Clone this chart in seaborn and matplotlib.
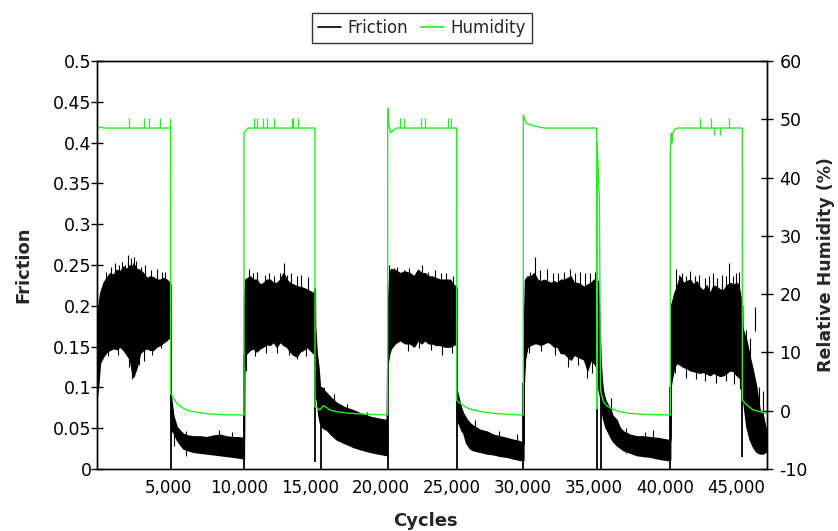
import numpy as np
import pandas as pd
import matplotlib
matplotlib.use("Agg")
import matplotlib.pyplot as plt
from matplotlib.lines import Line2D
import seaborn as sns

# ---------------- data ----------------
# Friction band: cycle, lower envelope, upper envelope
fric_cycles = [0, 100, 211, 446, 700, 916, 1150, 1385, 1620, 1855, 2100, 2325, 2450, 2560, 2800, 3030,
               3260, 3499, 3734, 3969, 4200, 4438, 4673, 4908, 5143, 5185,
               5200, 5378, 5613, 5850, 6082, 6400, 6787, 7250, 7726, 8200, 8665, 9100, 9605, 10000, 10310, 10350,
               10365, 10430, 10779, 11014, 11249, 11484, 11719, 11950, 12188, 12420, 12658, 12900, 13128, 13360,
               13597, 13830, 14067, 14300, 14537, 14770, 15006, 15241, 15350,
               15365, 15478, 15600, 15710, 15850, 15943, 16182, 16500, 16887, 17400, 18056, 18600, 19233, 19800, 20410,
               20480, 20600, 20712, 21000, 21346, 21700, 22050, 22330, 22614, 22860, 23107, 23350, 23600, 23880,
               24164, 24500, 24868, 25100, 25330,
               25345, 25500, 25650, 25806, 26000, 26278, 26510, 26982, 27454, 27919, 28400, 28863, 29300, 29800, 30040,
               30070, 30150, 30319, 30550, 30789, 31024, 31260, 31493, 31730, 31963, 32200, 32433, 32670, 32902,
               33140, 33372, 33600, 33842, 34080, 34311, 34550, 34781, 35000, 35180,
               35300, 35480, 35560, 35650, 35800, 36000, 36139, 36300, 36610, 36850, 37080, 37550, 38020, 38500,
               38960, 39500, 40140, 40380,
               40400, 40485, 40660, 40837, 41070, 41306, 41540, 41776, 42010, 42246, 42480, 42715, 42950, 43185,
               43420, 43655, 43890, 44124, 44360, 44600, 44829, 45060, 45181, 45416, 45455,
               45470, 45510, 45745, 45980, 46215, 46450, 46684, 46919, 47100, 47200]
fric_low = [0.09, 0.105, 0.13, 0.138, 0.144, 0.146, 0.148, 0.147, 0.15, 0.146, 0.14, 0.134, 0.12, 0.113, 0.125, 0.142,
            0.146, 0.148, 0.146, 0.146, 0.15, 0.152, 0.155, 0.158, 0.162, 0.163,
            0.048, 0.045, 0.036, 0.03, 0.025, 0.023, 0.021, 0.02, 0.019, 0.018, 0.017, 0.016, 0.015, 0.014, 0.013, 0.012,
            0.12, 0.14, 0.146, 0.148, 0.144, 0.148, 0.15, 0.153, 0.152, 0.156, 0.15, 0.156, 0.152, 0.15,
            0.144, 0.14, 0.138, 0.144, 0.146, 0.15, 0.146, 0.142, 0.146,
            0.09, 0.085, 0.065, 0.056, 0.052, 0.05, 0.048, 0.042, 0.036, 0.032, 0.027, 0.024, 0.021, 0.019, 0.017,
            0.13, 0.142, 0.148, 0.154, 0.158, 0.154, 0.154, 0.15, 0.158, 0.154, 0.158, 0.154, 0.154, 0.152,
            0.152, 0.15, 0.15, 0.152, 0.154,
            0.06, 0.055, 0.048, 0.044, 0.032, 0.025, 0.023, 0.021, 0.019, 0.018, 0.016, 0.015, 0.013, 0.011, 0.011,
            0.105, 0.134, 0.15, 0.152, 0.154, 0.154, 0.152, 0.154, 0.156, 0.154, 0.15, 0.15, 0.142, 0.142,
            0.138, 0.134, 0.14, 0.138, 0.136, 0.134, 0.121, 0.134, 0.13, 0.125,
            0.1, 0.085, 0.07, 0.062, 0.052, 0.045, 0.04, 0.035, 0.029, 0.026, 0.023, 0.02, 0.017, 0.016,
            0.015, 0.013, 0.011, 0.011,
            0.1, 0.109, 0.125, 0.13, 0.128, 0.125, 0.124, 0.121, 0.12, 0.119, 0.118, 0.119, 0.117, 0.115,
            0.118, 0.116, 0.114, 0.115, 0.118, 0.121, 0.12, 0.115, 0.113, 0.109, 0.11,
            0.1, 0.085, 0.052, 0.036, 0.027, 0.021, 0.019, 0.019, 0.021, 0.023]
fric_high = [0.17, 0.2, 0.215, 0.228, 0.235, 0.24, 0.238, 0.244, 0.242, 0.248, 0.245, 0.25, 0.246, 0.252, 0.245, 0.244,
             0.24, 0.234, 0.236, 0.235, 0.232, 0.232, 0.234, 0.232, 0.228, 0.225,
             0.09, 0.065, 0.052, 0.047, 0.043, 0.041, 0.04, 0.04, 0.039, 0.041, 0.042, 0.04, 0.039, 0.039, 0.038, 0.036,
             0.2, 0.232, 0.236, 0.232, 0.232, 0.226, 0.228, 0.232, 0.232, 0.228, 0.228, 0.232, 0.24, 0.232,
             0.228, 0.226, 0.224, 0.223, 0.222, 0.22, 0.218, 0.215, 0.222,
             0.175, 0.142, 0.125, 0.1, 0.1, 0.097, 0.093, 0.087, 0.081, 0.076, 0.072, 0.068, 0.064, 0.062, 0.06,
             0.2, 0.24, 0.245, 0.244, 0.24, 0.242, 0.24, 0.236, 0.244, 0.24, 0.24, 0.236, 0.236, 0.234,
             0.232, 0.232, 0.232, 0.226, 0.223,
             0.097, 0.085, 0.075, 0.068, 0.062, 0.056, 0.053, 0.048, 0.046, 0.042, 0.04, 0.038, 0.036, 0.034, 0.032,
             0.17, 0.232, 0.236, 0.236, 0.24, 0.232, 0.23, 0.232, 0.23, 0.228, 0.23, 0.228, 0.232, 0.232,
             0.234, 0.236, 0.228, 0.228, 0.226, 0.223, 0.226, 0.228, 0.232, 0.232,
             0.23, 0.134, 0.11, 0.095, 0.085, 0.078, 0.075, 0.066, 0.06, 0.05, 0.046, 0.042, 0.04, 0.04,
             0.039, 0.038, 0.036, 0.035,
             0.2, 0.203, 0.215, 0.223, 0.236, 0.228, 0.23, 0.232, 0.226, 0.23, 0.222, 0.219, 0.225, 0.215,
             0.225, 0.223, 0.22, 0.219, 0.225, 0.228, 0.226, 0.228, 0.226, 0.203, 0.2,
             0.174, 0.17, 0.158, 0.138, 0.12, 0.1, 0.072, 0.065, 0.05, 0.05]

# Prominent friction spikes above / below the band
spike_up_cycles = [600, 1000, 1300, 1550, 1750, 2000, 2200, 2400, 2600, 2750, 3100, 3350, 3800, 4250, 4550, 4800,
                   5450, 6300, 8600, 9500,
                   10700, 11000, 11300, 11800, 12100, 12500, 12900, 13150, 13400, 13700, 14100, 14400, 14850,
                   16000, 16700, 17600, 19000,
                   20600, 20900, 21100, 21600, 22000, 22500, 22900, 23300, 23800, 24200, 24600, 25100,
                   26600, 28300, 29600,
                   30500, 30830, 31200, 31700, 32100, 32500, 32900, 33300, 33700, 34000, 34400, 34700, 35050,
                   36238, 37300, 38600, 39192,
                   40800, 41000, 41200, 41500, 41800, 42100, 42400, 42800, 43100, 43400, 43700, 44000, 44300,
                   44500, 44800, 45000, 45250,
                   45700, 46000, 46356, 46650, 46950]
spike_up_tops = [0.242, 0.248, 0.252, 0.25, 0.254, 0.25, 0.262, 0.258, 0.26, 0.255, 0.248, 0.25, 0.244, 0.245,
                 0.242, 0.242,
                 0.058, 0.046, 0.048, 0.045,
                 0.245, 0.24, 0.242, 0.238, 0.24, 0.236, 0.24, 0.252, 0.238, 0.24, 0.236, 0.238, 0.235,
                 0.1, 0.092, 0.08, 0.07,
                 0.25, 0.246, 0.248, 0.244, 0.246, 0.242, 0.25, 0.242, 0.244, 0.24, 0.24, 0.236,
                 0.06, 0.046, 0.043,
                 0.242, 0.26, 0.244, 0.245, 0.24, 0.24, 0.242, 0.245, 0.24, 0.242, 0.24, 0.24, 0.242,
                 0.087, 0.05, 0.045, 0.048,
                 0.245, 0.238, 0.24, 0.236, 0.243, 0.236, 0.238, 0.234, 0.236, 0.24, 0.234, 0.238, 0.236,
                 0.252, 0.236, 0.24, 0.242,
                 0.17, 0.16, 0.199, 0.1, 0.095]
spike_down_cycles = [800, 1500, 2250, 2450, 2650, 2950, 3300, 3900, 4500,
                     10500, 11100, 11900, 12700, 13500, 14100, 14700,
                     20800, 21900, 22700, 23500, 24300, 25000,
                     30400, 31300, 32300, 33200, 33900, 34500, 34900,
                     40700, 41500, 42200, 42800, 43600, 44300, 44900, 45300]
spike_down_bottoms = [0.138, 0.14, 0.125, 0.11, 0.118, 0.128, 0.132, 0.14, 0.148,
                      0.12, 0.138, 0.142, 0.142, 0.14, 0.135, 0.138,
                      0.148, 0.145, 0.148, 0.146, 0.14, 0.142,
                      0.142, 0.145, 0.14, 0.125, 0.128, 0.112, 0.118,
                      0.118, 0.112, 0.11, 0.108, 0.106, 0.108, 0.104, 0.098]

# Vertical friction drops at humidity switches
drop_cycles = [5192, 10356, 15358, 15781, 20478, 25340, 30034, 35204, 35486, 40390, 45463]
drop_bottoms = [0, 0, 0.008, 0, 0, 0, 0, 0, 0, 0, 0.015]
drop_tops = [0.16, 0.14, 0.146, 0.06, 0.13, 0.154, 0.105, 0.125, 0.1, 0.1, 0.11]

# Relative humidity (%)
hum_cycles = [0, 200, 500, 5190, 5192, 5263, 5615, 6080, 6552, 7256, 7961, 8898, 10307, 10356,
              10358, 10640, 15356, 15358, 15710, 15943, 16133, 16415, 16887, 17824, 19233, 20410, 20476,
              20478, 20560, 20691, 21114, 25340, 25342, 25575, 26045, 26515, 27215, 27919, 28863, 29920, 30032,
              30034, 30244, 30597, 31069, 31541, 35204, 35210, 35225, 35300, 35395, 35470, 35670, 35909,
              36374, 36845, 37550, 38487, 40368, 40388,
              40390, 40460, 40500, 40550, 40700, 40932, 45461, 45463, 45773, 46238, 46708, 47180, 47200]
hum_values = [48.1, 48.7, 48.5, 48.5, 3.0, 2.7, 1.27, 0.4, -0.06, -0.34, -0.56, -0.68, -0.73, -0.73,
              47.7, 48.5, 48.5, 0.69, 0.12, 0.86, 0.6, 0.12, -0.17, -0.45, -0.62, -0.73, -0.73,
              51.9, 49.0, 47.75, 48.5, 48.5, 1.84, 1.27, 0.52, 0.12, -0.22, -0.45, -0.62, -0.73, -0.73,
              50.7, 49.3, 49.0, 48.7, 48.5, 48.5, 0.3, 46.0, 42.0, 36.0, 3.5, 1.6, 0.85,
              0.2, -0.17, -0.45, -0.62, -0.73, -0.73,
              44.7, 47.6, 46.0, 47.5, 48.3, 48.5, 48.5, 1.84, 0.98, 0.12, -0.17, -0.45, -0.47]
hum_spike_up = [2276, 3332, 3663, 4438, 5143, 11082, 11251, 11716, 11956, 12491, 13717, 13830, 14182,
                21346, 21649, 22847, 23086, 24727, 24960, 42504, 43279, 44527]
hum_spike_down = [43448, 43871]
hum_base, hum_spike_top, hum_dip_bottom = 48.5, 50.3, 47.3

x_ticks = [5000, 10000, 15000, 20000, 25000, 30000, 35000, 40000, 45000]
x_tick_labels = ["5,000", "10,000", "15,000", "20,000", "25,000", "30,000", "35,000", "40,000", "45,000"]
y_ticks = [0, 0.05, 0.1, 0.15, 0.2, 0.25, 0.3, 0.35, 0.4, 0.45, 0.5]
y_tick_labels = ["0", "0.05", "0.1", "0.15", "0.2", "0.25", "0.3", "0.35", "0.4", "0.45", "0.5"]
y2_ticks = [-10, 0, 10, 20, 30, 40, 50, 60]

GREEN = "#22ee22"

# ---------------- plotting ----------------
sns.set_theme(style="white")
plt.rcParams["font.family"] = ["DejaVu Sans"]

fig = plt.figure(figsize=(8.38, 5.31), dpi=100)
ax = fig.add_axes([97 / 838, 62 / 531, 670 / 838, 408 / 531])
ax2 = ax.twinx()

fric = pd.DataFrame({"cycles": fric_cycles, "low": fric_low, "high": fric_high})
ax.fill_between(fric["cycles"], fric["low"], fric["high"], color="black", lw=1.0, edgecolor="black")
ax.vlines(spike_up_cycles, np.array(spike_up_tops) - 0.03, spike_up_tops, color="black", lw=0.8)
ax.vlines(spike_down_cycles, spike_down_bottoms, np.array(spike_down_bottoms) + 0.03, color="black", lw=0.8)
ax.vlines(drop_cycles, drop_bottoms, drop_tops, color="black", lw=1.3)

hum = pd.DataFrame({"cycles": hum_cycles, "humidity": hum_values})
sns.lineplot(data=hum, x="cycles", y="humidity", ax=ax2, color=GREEN, lw=1.0,
             estimator=None, sort=False, legend=False)
ax2.vlines(hum_spike_up, hum_base, hum_spike_top, color=GREEN, lw=0.9)
ax2.vlines(hum_spike_down, hum_dip_bottom, hum_base, color=GREEN, lw=0.9)

ax.set_xlim(0, 47200)
ax.set_ylim(0, 0.5)
ax2.set_ylim(-10, 60)
ax.set_xticks(x_ticks)
ax.set_xticklabels(x_tick_labels)
ax.set_yticks(y_ticks)
ax.set_yticklabels(y_tick_labels)
ax2.set_yticks(y2_ticks)
ax2.set_yticklabels([str(v) for v in y2_ticks])

ax.tick_params(axis="x", length=0, pad=7, labelsize=12, colors="black")
ax.tick_params(axis="y", direction="inout", length=8, width=1, pad=0, labelsize=12.5, colors="black")
ax2.tick_params(axis="y", direction="inout", length=8, width=1, pad=5, labelsize=12.5, colors="black")

for a in (ax, ax2):
    for s in a.spines.values():
        s.set_color("black")
        s.set_linewidth(1.0)
ax.spines["bottom"].set_color("#444444")

ax.set_xlabel("Cycles", fontsize=13, fontweight="bold")
ax.xaxis.set_label_coords(0.49, -0.105)
ax.set_ylabel("Friction", fontsize=13, fontweight="bold")
ax.yaxis.set_label_coords(-0.097, 0.5)
ax2.set_ylabel("Relative Humidity (%)", fontsize=12.5, fontweight="bold")
ax2.yaxis.set_label_coords(1.074, 0.5)

handles = [Line2D([], [], color="black", lw=1.2), Line2D([], [], color=GREEN, lw=1.2)]
leg = fig.legend(handles, ["Friction", "Humidity"], loc="center", bbox_to_anchor=(422 / 838, 1 - 28 / 531),
                 ncol=2, fontsize=12, frameon=True, fancybox=False, shadow=False,
                 handlelength=1.35, handletextpad=0.4, columnspacing=0.8, borderpad=0.35)
leg.get_frame().set_edgecolor("black")
leg.get_frame().set_linewidth(1.0)

fig.savefig("out.png", dpi=100)
